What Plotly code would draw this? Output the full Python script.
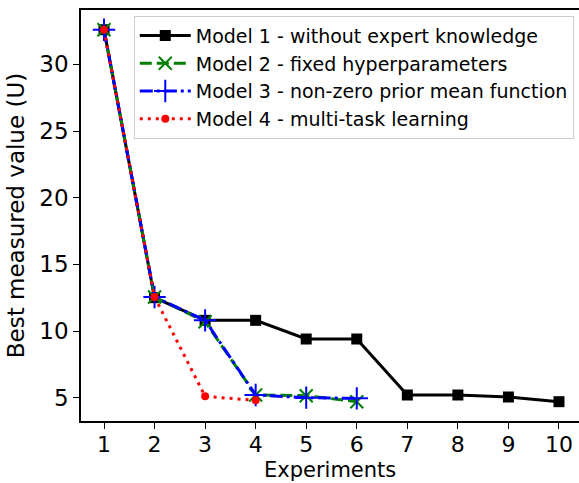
import plotly.graph_objects as go

experiments_1 = [1, 2, 3, 4, 5, 6, 7, 8, 9, 10]
model1 = [32.6, 12.5, 10.8, 10.8, 9.4, 9.4, 5.2, 5.2, 5.05, 4.7]
experiments_2 = [1, 2, 3, 4, 5, 6]
model2 = [32.6, 12.55, 10.7, 5.2, 5.15, 4.7]
experiments_3 = [1, 2, 3, 4, 5, 6]
model3 = [32.6, 12.55, 10.8, 5.2, 5.0, 4.95]
experiments_4 = [1, 2, 3, 4]
model4 = [32.6, 12.55, 5.1, 4.8]

names = [
    "Model 1 - without expert knowledge",
    "Model 2 - fixed hyperparameters",
    "Model 3 - non-zero prior mean function",
    "Model 4 - multi-task learning",
]
x_title = "Experiments"
y_title = "Best measured value (U)"

fig = go.Figure()
fig.add_trace(go.Scatter(
    x=experiments_1, y=model1, name=names[0], mode="lines+markers",
    line=dict(color="black", width=3),
    marker=dict(symbol="square", size=11, color="black")))
fig.add_trace(go.Scatter(
    x=experiments_2, y=model2, name=names[1], mode="lines+markers",
    line=dict(color="#008000", width=3, dash="12px,5px"),
    marker=dict(symbol="x-thin", size=13, color="#008000",
                line=dict(color="#008000", width=2))))
fig.add_trace(go.Scatter(
    x=experiments_3, y=model3, name=names[2], mode="lines+markers",
    line=dict(color="#0000ff", width=3, dash="13px,4px,3px,4px"),
    marker=dict(symbol="cross-thin", size=16, color="#0000ff",
                line=dict(color="#0000ff", width=2))))
fig.add_trace(go.Scatter(
    x=experiments_4, y=model4, name=names[3], mode="lines+markers",
    line=dict(color="#ff0000", width=3, dash="3px,5px"),
    marker=dict(symbol="circle", size=8, color="#ff0000")))

font = "DejaVu Sans"
fig.update_layout(
    width=579, height=483,
    margin=dict(l=81, r=0, t=10, b=62),
    plot_bgcolor="white", paper_bgcolor="white",
    font=dict(family=font, size=23, color="black"),
    showlegend=True,
    legend=dict(
        x=0.106, y=0.986, xanchor="left", yanchor="top",
        bgcolor="rgba(255,255,255,0.85)", bordercolor="#cccccc", borderwidth=1,
        font=dict(family=font, size=19, color="black"),
        itemwidth=51,
    ),
    xaxis=dict(
        range=[0.545, 10.396], tickmode="array",
        tickvals=[1, 2, 3, 4, 5, 6, 7, 8, 9, 10],
        ticks="outside", ticklen=6, tickwidth=1.3, tickcolor="black",
        showline=True, linecolor="black", linewidth=1.5, mirror=True,
        showgrid=False, zeroline=False, automargin=False,
        tickfont=dict(size=22), ticklabelstandoff=-3,
    ),
    yaxis=dict(
        range=[3.25, 34.08], tickmode="array",
        tickvals=[5, 10, 15, 20, 25, 30],
        ticks="outside", ticklen=6, tickwidth=1.3, tickcolor="black",
        showline=True, linecolor="black", linewidth=1.5, mirror=False,
        showgrid=False, zeroline=False, automargin=False,
        title=dict(text=y_title, standoff=8, font=dict(size=23)),
        tickfont=dict(size=23),
    ),
    annotations=[dict(
        text=x_title, xref="paper", yref="paper", x=0.5, y=-0.1505,
        xanchor="center", yanchor="bottom", showarrow=False, borderpad=0,
        font=dict(family=font, size=21, color="black"),
    )],
)
fig.write_html("out.html")
